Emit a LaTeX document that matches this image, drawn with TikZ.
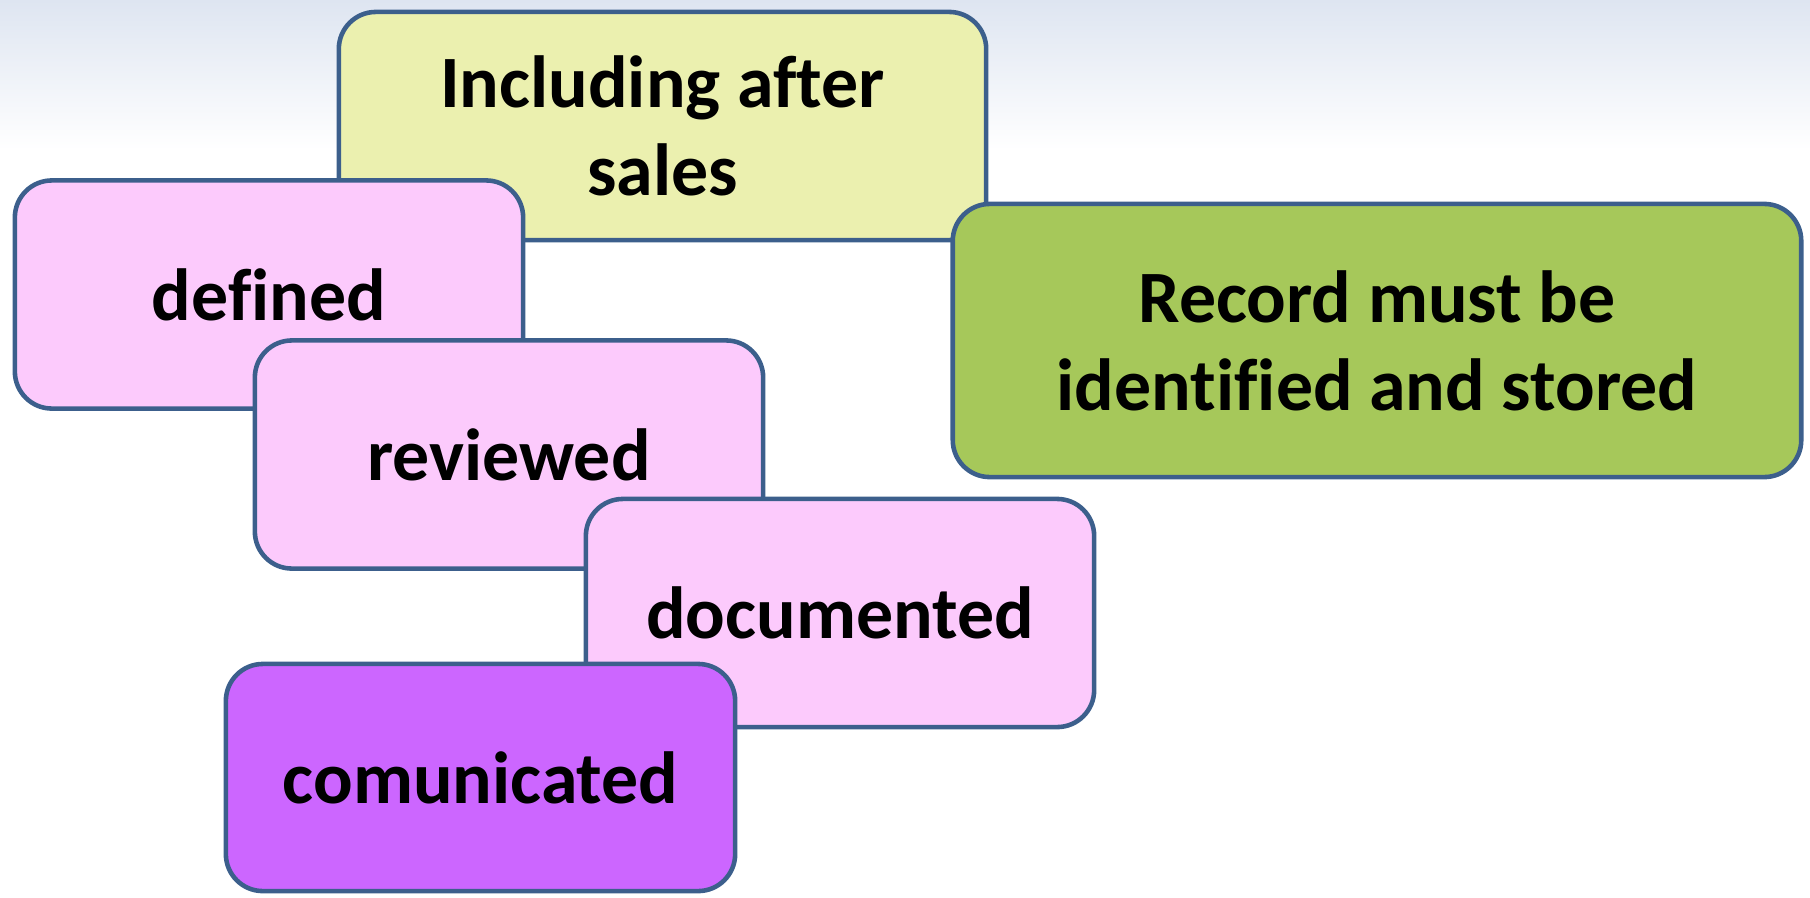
\documentclass[tikz,border=0pt]{standalone}
\usepackage{fontspec}
\setmainfont[Ligatures=NoCommon]{Carlito}
\definecolor{edgeblue}{RGB}{60,95,140}
\definecolor{lemon}{RGB}{235,240,175}
\definecolor{pinkfill}{RGB}{252,202,252}
\definecolor{violet}{RGB}{204,102,255}
\definecolor{leaf}{RGB}{166,200,90}
\definecolor{skytop}{RGB}{222,229,241}
\tikzset{
  card/.style={draw=edgeblue, line width=1.3pt, rounded corners=0.37cm,
    rectangle, align=center, inner sep=0pt,
    font=\fontsize{21}{25}\selectfont\bfseries},
}
\begin{document}
\begin{tikzpicture}[x=0.01cm,y=-0.01cm]
\useasboundingbox (0,0) rectangle (1810,897);
% light band along the top
\shade[top color=skytop, bottom color=white] (0,0) rectangle (1810,150);

\node[card, fill=lemon, minimum width=6.47cm, minimum height=2.28cm] (sales) at (662.5,126)
{Including after\\sales};
\node[card, fill=leaf, minimum width=8.48cm, minimum height=2.73cm] (record) at (1377,340.5)
{Record must be\\identified and stored};

\node[card, fill=pinkfill, minimum width=5.08cm, minimum height=2.28cm] (defined) at (269,294.5)
{defined};
\node[card, fill=pinkfill, minimum width=5.08cm, minimum height=2.28cm] (reviewed) at (509,454.5)
{reviewed};
\node[card, fill=pinkfill, minimum width=5.08cm, minimum height=2.28cm] (documented) at (840,613)
{documented};
\node[card, fill=violet, minimum width=5.09cm, minimum height=2.27cm] (comunicated) at (480.5,777.5)
{comunicated};
\end{tikzpicture}
\end{document}
